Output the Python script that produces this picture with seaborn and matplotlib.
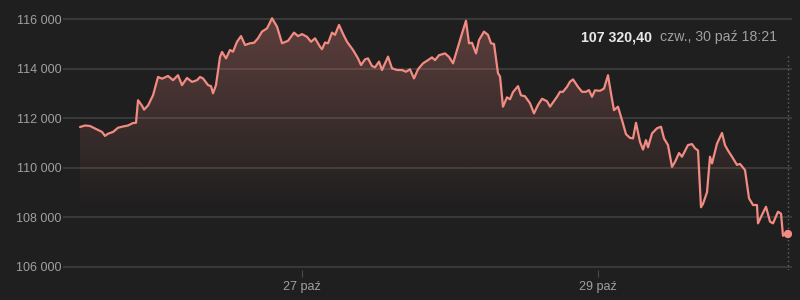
import numpy as np
import pandas as pd
import matplotlib
matplotlib.use("Agg")
import matplotlib.pyplot as plt
import matplotlib.dates as mdates
from matplotlib.patches import Polygon
from matplotlib.colors import to_rgb
import seaborn as sns

# ---------------- data ----------------
start_time = "2025-10-25 12:00"
hours = [0.00, 0.81, 1.62, 2.43, 3.24, 3.57, 4.05, 4.54, 5.35, 6.16, 6.97, 7.78, 8.59, 9.08,
         9.41, 10.05, 10.38, 11.03, 11.84, 12.65, 13.30, 14.27, 15.08, 15.89, 16.54, 17.35,
         18.16, 18.97, 19.46, 19.95, 20.76, 21.24, 21.57, 22.05, 22.70, 23.03, 23.68, 24.32,
         24.81, 25.46, 26.11, 26.76, 27.57, 28.22, 28.86, 29.51, 30.32, 31.14, 31.95, 32.76,
         33.73, 34.70, 35.35, 36.00, 36.81, 37.46, 38.11, 38.92, 39.24, 39.73, 40.22, 40.86,
         41.35, 42.00, 42.65, 43.30, 44.27, 45.08, 45.57, 46.22, 46.70, 47.35, 47.84, 48.49,
         48.97, 49.95, 50.59, 51.41, 52.22, 52.86, 53.51, 54.16, 54.81, 55.62, 56.43, 57.08,
         57.57, 58.22, 59.19, 59.84, 60.49, 61.30, 61.95, 62.59, 63.08, 63.57, 64.22, 64.70,
         65.51, 66.16, 66.65, 67.14, 67.78, 68.11, 68.59, 69.24, 69.73, 70.22, 71.03, 71.51,
         72.16, 72.97, 73.62, 74.27, 74.92, 75.73, 76.22, 77.35, 77.84, 78.32, 78.97, 79.46,
         79.95, 80.76, 81.41, 82.05, 82.54, 83.03, 83.51, 84.32, 84.97, 85.62, 86.11, 86.59,
         87.24, 87.89, 88.54, 89.19, 89.68, 90.16, 90.81, 91.30, 91.78, 92.11, 92.76, 93.57,
         94.22, 94.70, 95.35, 96.00, 96.49, 97.14, 97.62, 98.59, 99.24, 99.73, 100.22, 100.70,
         101.03, 101.68, 102.16, 102.49, 103.30, 104.11, 104.59, 105.08, 105.73, 106.54,
         107.03, 107.84, 108.49, 109.14, 109.78, 109.95, 110.59, 111.24, 111.89, 112.38,
         113.19, 113.68, 114.00, 114.49, 114.81]
prices = [111640, 111700, 111680, 111580, 111480, 111440, 111280, 111370, 111440, 111610,
          111660, 111700, 111800, 111810, 112720, 112500, 112340, 112510, 112920, 113660,
          113590, 113700, 113530, 113730, 113330, 113620, 113460, 113530, 113660, 113600,
          113330, 113290, 113000, 113330, 114470, 114670, 114410, 114750, 114680, 115080,
          115310, 114950, 115020, 115040, 115220, 115490, 115620, 116030, 115690, 115020,
          115120, 115450, 115310, 115390, 115280, 115080, 115220, 114880, 114780, 115050,
          115020, 115450, 115360, 115760, 115400, 115080, 114750, 114410, 114140, 114370,
          114410, 114100, 114050, 114280, 113940, 114480, 114010, 113940, 113940, 113870,
          113970, 113600, 113970, 114210, 114340, 114450, 114340, 114540, 114610, 114470,
          114210, 114880, 115420, 115930, 115020, 115040, 114610, 115150, 115490, 115360,
          115020, 114990, 113810, 113680, 112460, 112840, 112760, 113050, 113290, 112920,
          112880, 112600, 112190, 112530, 112780, 112680, 112460, 112860, 113060, 113060,
          113260, 113470, 113560, 113260, 113060, 113060, 113130, 112860, 113120, 113100,
          113190, 113730, 112990, 112320, 112460, 111920, 111350, 111200, 111180, 111810,
          111040, 110730, 111110, 110820, 111380, 111590, 111650, 111180, 110910, 110030,
          110230, 110590, 110440, 110910, 110950, 110780, 110690, 108400, 108540, 109010,
          110440, 110170, 110970, 111400, 110910, 110690, 110440, 110110, 110150, 109900,
          108760, 108490, 108490, 107750, 108090, 108420, 107820, 107750, 108220, 108140,
          107250, 107330, 107320.40]
y_ticks = [106000, 108000, 110000, 112000, 114000, 116000]
x_tick_dates = ["2025-10-27", "2025-10-29"]
x_tick_labels = ["27 paź", "29 paź"]
last_price_label = "107 320,40"
last_time_label = "czw., 30 paź 18:21"

# ---------------- style ----------------
BG = "#1f1f1f"
LINE = "#f28b82"
GRID = "#3c3c3c"
TXT = "#a0a0a0"

sns.set_theme(style="dark")
plt.rcParams["font.family"] = ["Liberation Sans", "DejaVu Sans"]

df = pd.DataFrame({
    "time": pd.Timestamp(start_time) + pd.to_timedelta(hours, unit="h"),
    "price": prices,
})

fig = plt.figure(figsize=(8, 3), dpi=100, facecolor=BG)
ax = fig.add_axes([63 / 800, 1 - 270 / 300, (792 - 63) / 800, (270 - 5) / 300])
ax.set_facecolor(BG)

units_per_px = 2000 / 49.54
ylo = 106000 - 3.3 * units_per_px
yhi = 116000 + 14 * units_per_px
t0 = pd.Timestamp(start_time)
xlo = t0 - pd.Timedelta(hours=2.76)
xhi = t0 + pd.Timedelta(hours=115.46)

# gradient fill under the line
xnum = mdates.date2num(df["time"])
verts = list(zip(xnum, df["price"])) + [(xnum[-1], ylo), (xnum[0], ylo)]
clip = Polygon(verts, closed=True, facecolor="none", edgecolor="none", transform=ax.transData)
ax.add_patch(clip)
grad = np.zeros((256, 1, 4))
grad[..., :3] = to_rgb(LINE)
grad[:, 0, 3] = np.linspace(0.30, 0.0, 256)
img = ax.imshow(grad, aspect="auto", origin="upper",
                extent=[xnum[0], xnum[-1], 108300, 116100], zorder=1)
img.set_clip_path(clip)

sns.lineplot(data=df, x="time", y="price", ax=ax, color=LINE, linewidth=1.6, zorder=3)

last = df.iloc[-1]
ax.axvline(last["time"], ymin=0, ymax=(270 - 55) / 265, color="#5f6368",
           linestyle=(0, (1, 2)), linewidth=1, zorder=2)
ax.scatter([last["time"]], [last["price"]], s=36, color=LINE, zorder=4, edgecolors="none")

ax.set_xlim(xlo, xhi)
ax.set_ylim(ylo, yhi)
ax.set_yticks(y_ticks)
ax.set_yticklabels([f"{v:,.0f}".replace(",", " ") for v in y_ticks])
ax.set_xticks(pd.to_datetime(x_tick_dates))
ax.set_xticklabels(x_tick_labels)
ax.set_xlabel("")
ax.set_ylabel("")
ax.grid(axis="y", color=GRID, linewidth=1.3)
ax.grid(axis="x", visible=False)
ax.set_axisbelow(True)
for s in ax.spines.values():
    s.set_visible(False)
ax.tick_params(axis="y", length=0, pad=1, labelcolor=TXT, labelsize=9)
ax.tick_params(axis="x", length=5, width=0.8, color="#4a4a4a", direction="out",
               pad=3, labelcolor=TXT, labelsize=9, bottom=True)

fig.text(652 / 800, 1 - 37.5 / 300, last_price_label, ha="right", va="center",
         color="#e8e8e8", fontsize=10.2, fontweight="bold")
fig.text(660 / 800, 1 - 37.5 / 300, last_time_label, ha="left", va="center",
         color=TXT, fontsize=10.2)

fig.savefig("out.png", dpi=100, facecolor=BG)
